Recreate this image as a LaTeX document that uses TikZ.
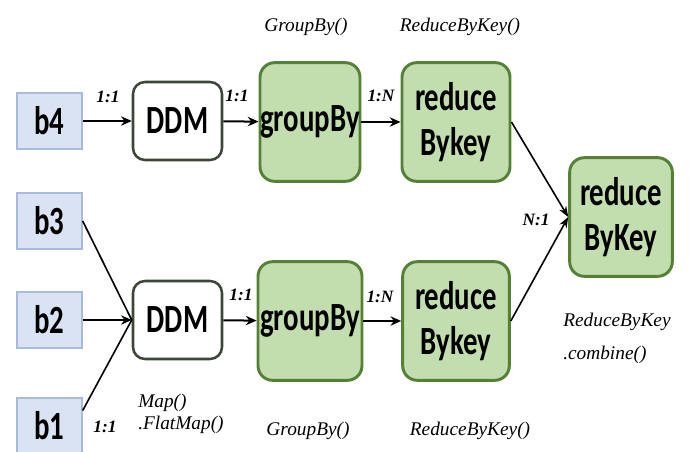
\documentclass[tikz,border=0pt]{standalone}
\usepackage{fontspec}
\usetikzlibrary{arrows.meta}
\newfontfamily\boxfont[FakeStretch=0.72]{Carlito}
\newfontfamily\labfont{Liberation Serif}
\definecolor{blockfill}{HTML}{DAE3F3}
\definecolor{blockline}{HTML}{A9BBDC}
\definecolor{opfill}{HTML}{C2DDAE}
\definecolor{opline}{HTML}{548235}
\definecolor{ddmline}{HTML}{3E4539}
\tikzset{
  boxtext/.style={font=\boxfont\bfseries\fontsize{30}{34}\selectfont},
  block/.style={boxtext, draw=blockline, line width=1pt, fill=blockfill, minimum width=48.75pt,
    minimum height=42pt, inner sep=0pt},
  ddmbox/.style={boxtext, draw=ddmline, line width=1.9pt, fill=white, rounded corners=9pt,
    minimum width=66.75pt, minimum height=58.5pt, inner sep=0pt},
  opbox/.style={boxtext, draw=opline, line width=2.2pt, fill=opfill, rounded corners=11pt,
    minimum height=89pt, inner sep=0pt, align=center},
  flow/.style={line width=1.5pt, -{Stealth[length=8pt,width=7pt]}},
  feed/.style={line width=1.2pt},
  merge/.style={line width=1.2pt, -{Stealth[length=8pt,width=6pt]}},
  ratio/.style={font=\labfont\itshape\bfseries\fontsize{13}{15}\selectfont, inner sep=0pt},
  opname/.style={font=\labfont\itshape\fontsize{14.5}{17}\selectfont, inner sep=0pt, align=left}
}
\begin{document}
\begin{tikzpicture}[x=0.75pt, y=-0.75pt]
\useasboundingbox (0,0) rectangle (692,452);
\clip (0,0) rectangle (692,452);

% data blocks
\node[block] (b4) at (49.5,121) {b4};
\node[block] (b3) at (49.5,221) {b3};
\node[block] (b2) at (49.5,320) {b2};
\node[block] (b1) at (49.5,426) {b1};

% upper pipeline
\node[ddmbox] (ddmA) at (177.5,121) {DDM};
\node[opbox, minimum width=75pt] (gbA) at (310,122) {groupBy};
\node[opbox, minimum width=81pt] (rbA) at (456,122) {reduce\\[0pt]Bykey};

% lower pipeline
\node[ddmbox] (ddmB) at (177.5,320) {DDM};
\node[opbox, minimum width=78pt] (gbB) at (310,321) {groupBy};
\node[opbox, minimum width=80pt] (rbB) at (456,321) {reduce\\[0pt]Bykey};

% final combine
\node[opbox, minimum width=77pt] (fin) at (621,217) {reduce\\[0pt]ByKey};

% connectors
\draw[flow] (b4) -- (ddmA);
\draw[flow] (ddmA) -- (gbA);
\draw[flow] (gbA) -- (rbA);
\draw[feed] (b3.east) -- (ddmB.west);
\draw[flow] (b2) -- (ddmB);
\draw[feed] (b1.25) -- (ddmB.west);
\draw[flow] (ddmB) -- (gbB);
\draw[flow] (gbB) -- (rbB);
\draw[merge] (rbA.east) -- (fin.west);
\draw[merge] (rbB.east) -- (fin.west);

% ratio labels
\node[ratio] (r1) at (108,97) {1:1};
\node[ratio] (r2) at (237,96) {1:1};
\node[ratio] (r3) at (381,96) {1:N};
\node[ratio] (r4) at (241,295) {1:1};
\node[ratio] (r5) at (380,297) {1:N};
\node[ratio] (r6) at (105,427) {1:1};
\node[ratio] (r7) at (536,220) {N:1};

% operation names
\node[opname] (t1) at (306,27) {GroupBy()};
\node[opname] (t2) at (460,27) {ReduceByKey()};
\node[opname] (t3) at (308,431) {GroupBy()};
\node[opname] (t4) at (470,431) {ReduceByKey()};
\node[opname, anchor=west] (t5) at (138,403) {Map()};
\node[opname, anchor=west] (t6) at (138,425) {.FlatMap()};
\node[opname, anchor=west] (t7) at (563,322) {ReduceByKey};
\node[opname, anchor=west] (t8) at (563,355) {.combine()};
\end{tikzpicture}
\end{document}
